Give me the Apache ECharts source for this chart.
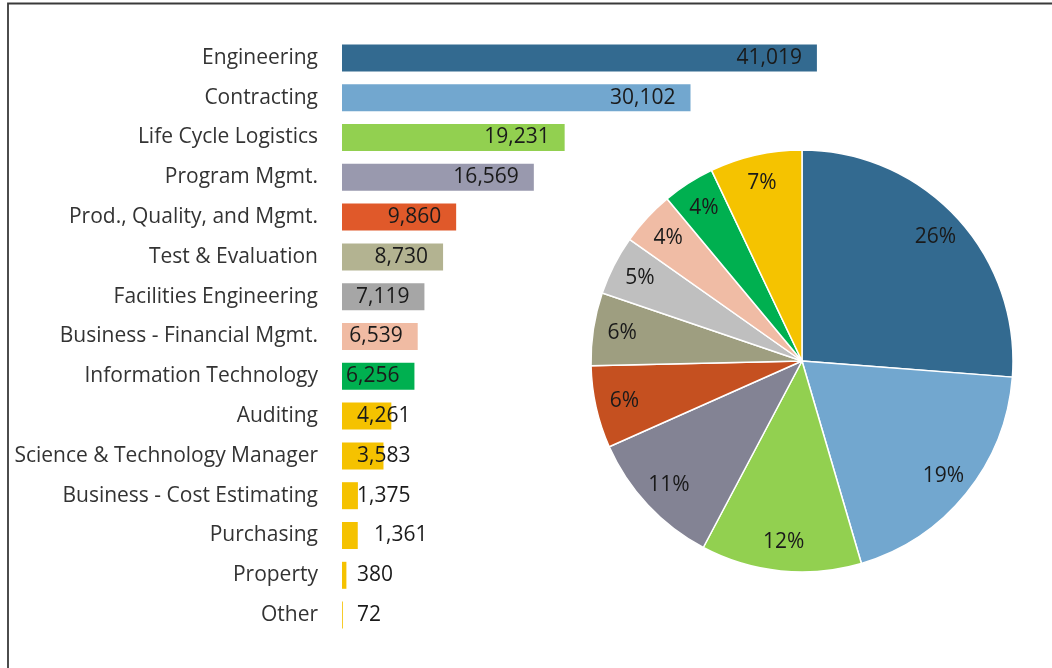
<!DOCTYPE html>
<html>
<head>
<meta charset="utf-8">
<script src="https://cdn.jsdelivr.net/npm/echarts@6/dist/echarts.min.js"></script>
<style>html,body{margin:0;padding:0;background:#fff;}#c{width:1052px;height:668px;}</style>
</head>
<body>
<div id="c"></div>
<script>
var categories = ['Engineering','Contracting','Life Cycle Logistics','Program Mgmt.','Prod., Quality, and Mgmt.','Test & Evaluation','Facilities Engineering','Business - Financial Mgmt.','Information Technology','Auditing','Science & Technology Manager','Business - Cost Estimating','Purchasing','Property','Other'];
var values = [41019,30102,19231,16569,9860,8730,7119,6539,6256,4261,3583,1375,1361,380,72];
var barColors = ['#336A90','#72A7CF','#92D050','#9999AE','#E0592A','#B3B391','#A6A6A6','#F0BBA3','#00B050','#F5C200','#F5C200','#F5C200','#F5C200','#F5C200','#F5C200'];
var pieNames = ['Engineering','Contracting','Life Cycle Logistics','Program Mgmt.','Prod., Quality, and Mgmt.','Test & Evaluation','Facilities Engineering','Business - Financial Mgmt.','Information Technology','Other'];
var pieValues = [41019,30102,19231,16569,9860,8730,7119,6539,6256,11032];
var pieColors = ['#336A90','#72A7CF','#92D050','#838394','#C55020','#9E9E80','#BFBFBF','#F0BCA5','#00B050','#F5C300'];

var FONT = '"Open Sans"';
var FS = 21;
var barData = values.map(function (v, i) {
  var lab;
  if (v > 5000) {
    lab = {show: true, position: 'insideRight', distance: 15};
  } else {
    lab = {show: true, position: [i === 12 ? 32 : 15, '50%'], align: 'left', verticalAlign: 'middle'};
  }
  return {value: v, itemStyle: {color: barColors[i]}, label: lab};
});
var pieData = pieValues.map(function (v, i) {
  return {name: pieNames[i], value: v, itemStyle: {color: pieColors[i]}};
});
var pieLabelData = pieValues.map(function (v, i) {
  return {name: pieNames[i], value: v};
});

var chart = echarts.init(document.getElementById('c'));
chart.setOption({
  animation: false,
  textStyle: {fontFamily: FONT},
  grid: {left: 342, top: 38, width: 521, height: 597},
  xAxis: {type: 'value', min: 0, max: 45000, show: false},
  yAxis: {
    type: 'category', data: categories, inverse: true,
    axisLine: {show: false}, axisTick: {show: false},
    axisLabel: {fontSize: FS, color: '#333333', margin: 24, fontFamily: FONT}
  },
  graphic: [{
    type: 'rect', shape: {x: 8, y: 3.5, width: 1100, height: 700},
    style: {fill: 'none', stroke: '#3a3a3a', lineWidth: 1.8}, silent: true, z: 100
  }],
  series: [
    {
      type: 'bar', data: barData, barWidth: 27,
      label: {fontSize: FS, color: '#1a1a1a', fontFamily: FONT,
        formatter: function (p) { return p.value.toLocaleString('en-US'); }},
      silent: true
    },
    {
      type: 'pie', center: [802, 361], radius: 211, startAngle: 90, clockwise: true,
      data: pieData, label: {show: false}, labelLine: {show: false},
      itemStyle: {borderColor: '#ffffff', borderWidth: 1.5}, silent: true
    },
    {
      type: 'pie', center: [802, 361], radius: [147, 211], startAngle: 90, clockwise: true,
      data: pieLabelData, percentPrecision: 0,
      itemStyle: {color: 'rgba(0,0,0,0)', borderWidth: 0},
      label: {show: true, position: 'inside', formatter: '{d}%', fontSize: FS, color: '#1a1a1a', fontFamily: FONT},
      labelLine: {show: false}, silent: true, z: 3
    }
  ]
});
</script>
</body>
</html>
